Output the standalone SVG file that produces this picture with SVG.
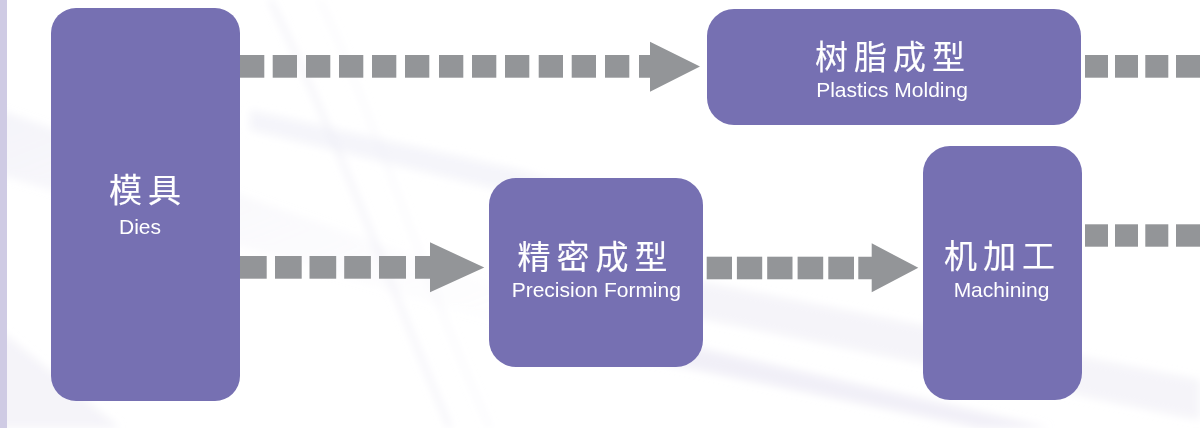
<svg xmlns="http://www.w3.org/2000/svg" width="1200" height="428" viewBox="0 0 1200 428">
  <defs>
    <style>
      .node { fill: #7670B2; }
      .sq { fill: #939598; }
      .zh { font-family: "Noto Sans CJK SC", "Noto Sans", sans-serif; font-size: 33px; font-weight: 400; fill: #FFFFFF; letter-spacing: 6px; text-anchor: middle; stroke: #FFFFFF; stroke-width: 0.15px; }
      .en { font-family: "Liberation Sans", Arial, sans-serif; font-size: 21px; fill: #FFFFFF; text-anchor: middle; }
    </style>
    <linearGradient id="band" x1="0" y1="0" x2="1" y2="1">
      <stop offset="0" stop-color="#D9D6EC" stop-opacity="0.45"/>
      <stop offset="1" stop-color="#E4E2F0" stop-opacity="0.05"/>
    </linearGradient>
    <filter id="soft" x="-10%" y="-10%" width="120%" height="120%">
      <feGaussianBlur stdDeviation="4"/>
    </filter>
  </defs>

  <!-- background -->
  <rect x="0" y="0" width="1200" height="428" fill="#FFFFFF"/>
  <g id="background" fill="none" filter="url(#soft)">
    <polygon points="0,110 0,175 520,330 540,300" fill="url(#band)" opacity="0.6"/>
    <polygon points="0,330 0,428 120,428" fill="#ECEAF4" opacity="0.5"/>
    <path d="M270,0 C330,120 380,260 450,428" stroke="#E6E4F1" stroke-width="3" opacity="0.7"/>
    <path d="M320,0 C380,130 420,270 490,428" stroke="#EEEDF5" stroke-width="2" opacity="0.7"/>
    <polygon points="540,250 1200,380 1200,420 560,290" fill="#E8E6F2" opacity="0.45"/>
    <polygon points="620,330 1050,428 980,428 600,350" fill="#E3E0EF" opacity="0.5"/>
    <polygon points="250,110 520,170 700,230 700,250 500,190 250,130" fill="#EFEEF6" opacity="0.6"/>
  </g>
  <rect x="0" y="0" width="7" height="428" fill="#CFCBE4"/>

  <!-- connectors -->
  <g id="connectors">
    <!-- Dies -> Plastics Molding -->
    <rect class="sq" x="240" y="55" width="24.3" height="22.7"/>
    <rect class="sq" x="272.7" y="55" width="24.3" height="22.7"/>
    <rect class="sq" x="306" y="55" width="24.3" height="22.7"/>
    <rect class="sq" x="339" y="55" width="24.3" height="22.7"/>
    <rect class="sq" x="372" y="55" width="24.3" height="22.7"/>
    <rect class="sq" x="405" y="55" width="24.3" height="22.7"/>
    <rect class="sq" x="439" y="55" width="24.3" height="22.7"/>
    <rect class="sq" x="472" y="55" width="24.3" height="22.7"/>
    <rect class="sq" x="505" y="55" width="24.3" height="22.7"/>
    <rect class="sq" x="538.7" y="55" width="24.3" height="22.7"/>
    <rect class="sq" x="571.7" y="55" width="24.3" height="22.7"/>
    <rect class="sq" x="605" y="55" width="24.3" height="22.7"/>
    <polygon class="sq" points="639,55 650,55 650,41.7 700,66.5 650,91.7 650,77.7 639,77.7"/>

    <!-- Dies -> Precision Forming -->
    <rect class="sq" x="240" y="256" width="26.7" height="22.7"/>
    <rect class="sq" x="275" y="256" width="26.7" height="22.7"/>
    <rect class="sq" x="309.5" y="256" width="26.7" height="22.7"/>
    <rect class="sq" x="344.2" y="256" width="26.7" height="22.7"/>
    <rect class="sq" x="379" y="256" width="27" height="22.7"/>
    <polygon class="sq" points="415,256 430,256 430,242.3 484.3,267.5 430,292.3 430,278.7 415,278.7"/>

    <!-- Precision Forming -> Machining -->
    <rect class="sq" x="706.7" y="256.7" width="25.3" height="22.6"/>
    <rect class="sq" x="736.9" y="256.7" width="25.3" height="22.6"/>
    <rect class="sq" x="767.2" y="256.7" width="25.3" height="22.6"/>
    <rect class="sq" x="797.6" y="256.7" width="25.6" height="22.6"/>
    <rect class="sq" x="828.3" y="256.7" width="25.7" height="22.6"/>
    <polygon class="sq" points="858.3,256.7 871.7,256.7 871.7,243.3 918.3,267.8 871.7,292.3 871.7,279.3 858.3,279.3"/>

    <!-- Plastics Molding -> (off right) -->
    <rect class="sq" x="1085" y="55" width="23" height="22.7"/>
    <rect class="sq" x="1115" y="55" width="23" height="22.7"/>
    <rect class="sq" x="1145.3" y="55" width="23" height="22.7"/>
    <rect class="sq" x="1176" y="55" width="24" height="22.7"/>

    <!-- Machining -> (off right) -->
    <rect class="sq" x="1085" y="224.3" width="23" height="22.4"/>
    <rect class="sq" x="1115" y="224.3" width="23" height="22.4"/>
    <rect class="sq" x="1145.3" y="224.3" width="23" height="22.4"/>
    <rect class="sq" x="1176" y="224.3" width="24" height="22.4"/>
  </g>

  <!-- nodes -->
  <g id="node-dies">
    <rect class="node" x="51" y="8" width="189" height="393" rx="25" ry="25"/>
    <text class="zh" x="148" y="201.5">模具</text>
    <text class="en" x="140" y="234">Dies</text>
  </g>

  <g id="node-plastics-molding">
    <rect class="node" x="707" y="9" width="374" height="116" rx="27" ry="27"/>
    <text class="zh" x="893" y="69.4">树脂成型</text>
    <text class="en" x="892" y="96.7">Plastics Molding</text>
  </g>

  <g id="node-precision-forming">
    <rect class="node" x="489" y="178" width="214" height="189" rx="27" ry="27"/>
    <text class="zh" x="595.5" y="269.4">精密成型</text>
    <text class="en" x="596.3" y="296.7">Precision Forming</text>
  </g>

  <g id="node-machining">
    <rect class="node" x="923" y="146" width="159" height="254" rx="27" ry="27"/>
    <text class="zh" x="1002.5" y="268.4">机加工</text>
    <text class="en" x="1001.5" y="296.7">Machining</text>
  </g>
</svg>
